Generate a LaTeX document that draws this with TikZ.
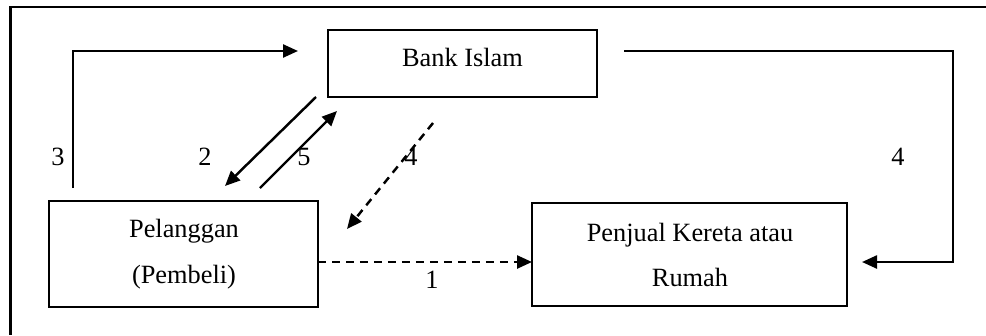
\documentclass[tikz,border=0pt]{standalone}
\usepackage{fontspec}
\setmainfont{Liberation Serif}
\usetikzlibrary{arrows.meta}
\tikzset{
  box/.style={draw, line width=1.4pt, inner sep=0pt},
  flow/.style={line width=1.4pt, -{Triangle[length=0.3cm,width=0.26cm]}},
  txt/.style={inner sep=0pt, align=center, font=\fontsize{15}{26}\selectfont},
}
\begin{document}
\begin{tikzpicture}[x=0.02cm, y=-0.02cm]
\useasboundingbox (0,0) rectangle (986,335);
\draw[line width=1.6pt] (986,7) -- (10.5,7) -- (10.5,335);
% boxes
\node[box, minimum width=5.38cm, minimum height=1.34cm](bank) at (462.5,63.5) {};
\node[txt](banktxt) at (462.5,57) {Bank Islam};
\node[box, minimum width=5.38cm, minimum height=2.12cm](pelanggan) at (183.5,254) {};
\node[txt](pelanggantxt) at (184,254) {Pelanggan\\(Pembeli)};
\node[box, minimum width=6.3cm, minimum height=2.06cm](penjual) at (689.5,254.5) {};
\node[txt](penjualtxt) at (690,255) {Penjual Kereta atau\\Rumah};
% end points
\coordinate (s3) at (73,188);
\coordinate (k3) at (73,51);
\coordinate (e3) at (298,51);
\coordinate (s4) at (624,51);
\coordinate (k4a) at (953,51);
\coordinate (k4b) at (953,262);
\coordinate (e4) at (862,262);
\coordinate (s2) at (316,97);
\coordinate (e2) at (225,186);
\coordinate (s5) at (260,188);
\coordinate (e5) at (337,111);
\coordinate (s4d) at (433,123);
\coordinate (e4d) at (347,229);
\coordinate (s1) at (318,262);
\coordinate (e1) at (532,262);
% connectors
\draw[flow] (s3) -- (k3) -- (e3);
\draw[flow] (s4) -- (k4a) -- (k4b) -- (e4);
\draw[flow] (s2) -- (e2);
\draw[flow] (s5) -- (e5);
\draw[flow, dash pattern=on 0.16cm off 0.12cm] (s4d) -- (e4d);
\draw[flow, dash pattern=on 0.16cm off 0.12cm] (s1) -- (e1);
% labels
\node[txt](l3) at (58,157) {3};
\node[txt](l2) at (205,157) {2};
\node[txt](l5) at (304,157) {5};
\node[txt](l4a) at (411,157) {4};
\node[txt](l4b) at (898,157) {4};
\node[txt](l1) at (432,280) {1};
\end{tikzpicture}
\end{document}
